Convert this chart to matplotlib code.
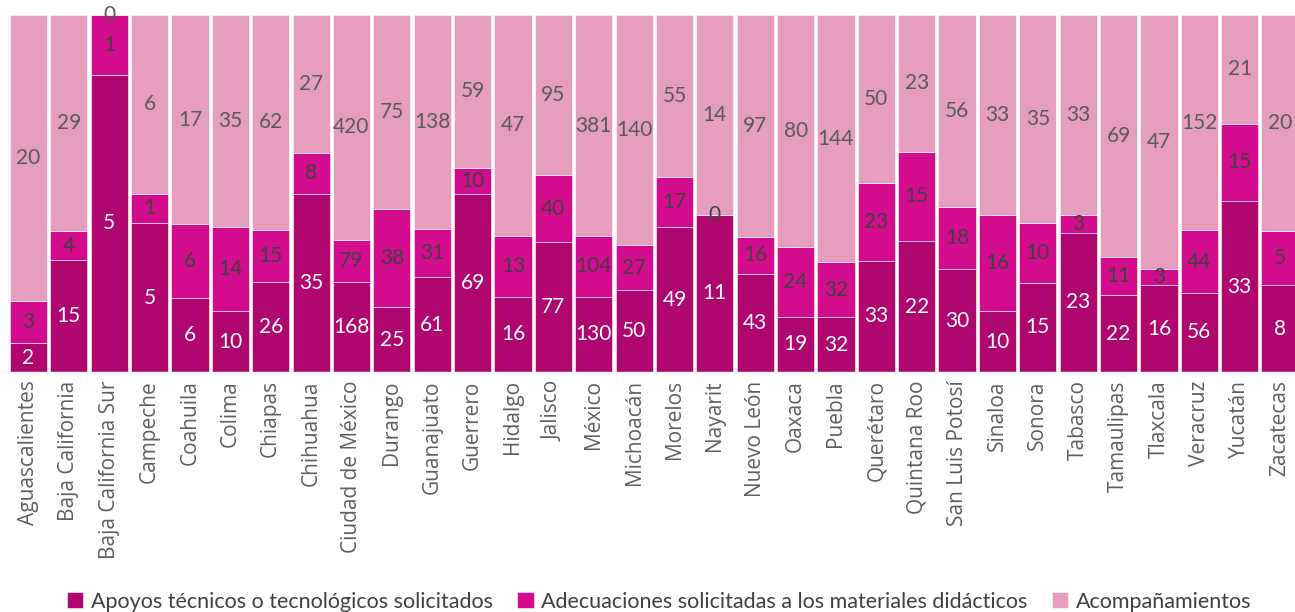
import matplotlib.pyplot as plt
import numpy as np

# Datos por entidad
ESTADOS = [
    "Aguascalientes", "Baja California", "Baja California Sur", "Campeche",
    "Coahuila", "Colima", "Chiapas", "Chihuahua", "Ciudad de México",
    "Durango", "Guanajuato", "Guerrero", "Hidalgo", "Jalisco", "México",
    "Michoacán", "Morelos", "Nayarit", "Nuevo León", "Oaxaca", "Puebla",
    "Querétaro", "Quintana Roo", "San Luis Potosí", "Sinaloa", "Sonora",
    "Tabasco", "Tamaulipas", "Tlaxcala", "Veracruz", "Yucatán", "Zacatecas",
]
apoyos = [2, 15, 5, 5, 6, 10, 26, 35, 168, 25, 61, 69, 16, 77, 130, 50,
          49, 11, 43, 19, 32, 33, 22, 30, 10, 15, 23, 22, 16, 56, 33, 8]
adecuaciones = [3, 4, 1, 1, 6, 14, 15, 8, 79, 38, 31, 10, 13, 40, 104, 27,
                17, 0, 16, 24, 32, 23, 15, 18, 16, 10, 3, 11, 3, 44, 15, 5]
acompanamientos = [20, 29, 0, 6, 17, 35, 62, 27, 420, 75, 138, 59, 47, 95, 381, 140,
                   55, 14, 97, 80, 144, 50, 23, 56, 33, 35, 33, 69, 47, 152, 21, 20]

SERIES = [
    ("Apoyos técnicos o tecnológicos solicitados", apoyos, "#B0066F", "white"),
    ("Adecuaciones solicitadas a los materiales didácticos", adecuaciones, "#D30B8D", "#404040"),
    ("Acompañamientos", acompanamientos, "#E59EBE", "#595959"),
]

plt.rcParams["font.family"] = ["Lato", "DejaVu Sans"]

fig = plt.figure(figsize=(12.95, 6.12), dpi=100)
ax = fig.add_axes([0.0, 1 - 372 / 612, 1.0, 357 / 612])

x = np.arange(len(ESTADOS))
totales = np.array(apoyos) + np.array(adecuaciones) + np.array(acompanamientos)
bottom = np.zeros(len(ESTADOS))

for nombre, vals, color, txt_color in SERIES:
    vals = np.array(vals, dtype=float)
    frac = vals / totales
    ax.bar(x, frac, bottom=bottom, width=0.92, color=color, label=nombre,
           edgecolor="white", linewidth=0.4)
    for xi, b, f, v in zip(x, bottom, frac, vals):
        ax.text(xi, b + f / 2, f"{int(v)}", ha="center", va="center",
                fontsize=15, color=txt_color, clip_on=False)
    bottom += frac

ax.axhline(0, color="#D9D9D9", linewidth=1)
ax.set_xlim(-0.705, 31.37)
ax.set_ylim(0, 1)
ax.set_yticks([])
ax.set_xticks(x)
ax.set_xticklabels(ESTADOS, rotation=90, fontsize=15, color="#5F5F5F",
                   family=["Open Sans", "DejaVu Sans"])
ax.tick_params(axis="x", length=0, pad=6)
for s in ax.spines.values():
    s.set_visible(False)

fig.legend(loc="center", bbox_to_anchor=(0.509, 0.017), ncol=3, frameon=False,
           fontsize=15.5, handlelength=0.75, handleheight=0.75, handletextpad=0.35,
           columnspacing=1.15, labelcolor="#404040")

fig.savefig("out.png", dpi=100)
